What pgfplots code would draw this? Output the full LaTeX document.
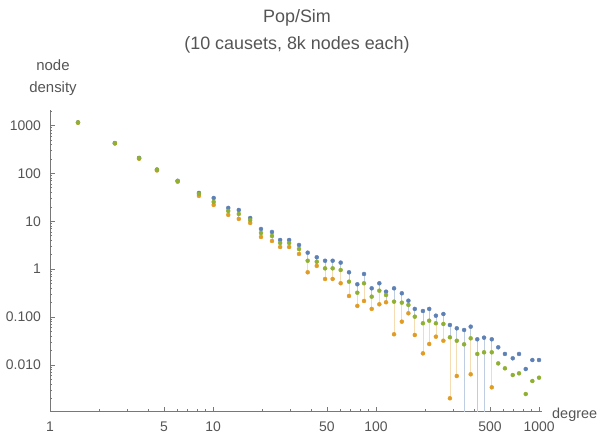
\documentclass[border=0pt]{standalone}
\usepackage{fontspec}
\setmainfont{Liberation Sans}
\usepackage{pgfplots}
\pgfplotsset{compat=1.18}
\usepackage{pgfplotstable}
\definecolor{mblue}{RGB}{94,129,181}
\definecolor{morange}{RGB}{225,156,36}
\definecolor{mgreen}{RGB}{143,176,50}
\definecolor{txt}{RGB}{85,85,85}
\definecolor{axc}{RGB}{120,120,120}

\pgfplotstableread{
x b g o
1.485 1160 1150 1140
2.5 430 425 420
3.52 210 206 202
4.53 120 118 115
6.07 70 69 67
8.2 39.0 37.2 33.8
10.1 30.6 25.3 21.9
12.4 19.0 16.4 13.6
14.4 17.2 14.2 11.2
16.9 11.7 10.6 9.2
19.7 6.9 5.7 4.7
23.0 5.98 4.93 3.88
25.8 4.07 3.52 2.90
29.3 4.07 3.52 2.90
33.7 3.20 2.64 2.08
38.1 2.21 1.50 0.861
43.3 1.77 1.43 1.17
48.7 1.50 1.04 0.624
54.2 1.50 1.04 0.624
60.7 1.37 0.96 0.508
68.3 0.861 0.548 0.276
76.8 0.484 0.323 0.171
84.4 0.794 0.508 0.217
94.1 0.399 0.267 0.148
104.8 0.508 0.356 0.185
115.2 0.339 0.289 0.204
129 0.399 0.210 0.0438
144 0.314 0.200 0.0802
158 0.220 0.179 0.120
173 0.148 0.102 0.0423
194 0.134 0.0743 0.0175
212 0.148 0.0841 0.0274
233 0.107 0.0743 0.0390
259 0.116 0.0718 0.0321
284 0.0684 0.0379 0.00202
313 0.0583 0.0321 0.00589
347 0.0538 0.0270 nan
381 0.0631 0.0361 0.00640
418 0.0344 0.0170 nan
460 0.0372 0.0184 nan
513 0.0344 0.0184 0.00342
562 0.0234 0.0108 nan
618 0.0170 0.00853 nan
690 0.0138 0.00618 nan
754 0.0170 0.00671 nan
829 0.00825 0.00248 nan
910 0.0127 0.00463 nan
1000 0.0127 0.00543 nan
}\data

\begin{document}
\begin{tikzpicture}
\useasboundingbox (-50bp,-23.5bp) rectangle (553bp,411.5bp);
\begin{axis}[
  at={(0,0)}, anchor=south west,
  scale only axis, width=492bp, height=301.5bp,
  xmode=log, ymode=log,
  xmin=1, xmax=1043, ymin=0.00107, ymax=2100,
  axis x line=bottom, axis y line=left,
  axis line style={-, draw=axc, line width=0.8pt},
  tick align=inside,
  xtick={1,5,10,50,100,500,1000},
  xticklabels={1,5,10,50,100,500,1000},
  minor xtick={2,3,4,6,7,8,9,20,30,40,60,70,80,90,200,300,400,600,700,800,900},
  ytick={0.01,0.1,1,10,100,1000},
  yticklabels={0.010,0.100,1,10,100,1000},
  minor ytick={0.002,0.003,0.004,0.005,0.006,0.007,0.008,0.009,
    0.02,0.03,0.04,0.05,0.06,0.07,0.08,0.09,
    0.2,0.3,0.4,0.5,0.6,0.7,0.8,0.9,
    2,3,4,5,6,7,8,9,20,30,40,50,60,70,80,90,
    200,300,400,500,600,700,800,900,2000},
  major tick length=5bp, minor tick length=2.5bp,
  every tick/.style={draw=axc, line width=0.6pt},
  ticklabel style={font=\fontsize{14}{16}\selectfont, text=txt, inner sep=0pt},
  xticklabel style={anchor=north, yshift=-10.5bp},
  yticklabel style={anchor=east, xshift=-9bp},
  unbounded coords=jump,
]
% filling lines blue -> orange (or to bottom)
\addplot[mblue!40, line width=0.7pt, forget plot] table {
x y
8.2 39.0
8.2 33.8
nan nan
10.1 30.6
10.1 21.9
nan nan
12.4 19.0
12.4 13.6
nan nan
14.4 17.2
14.4 11.2
nan nan
16.9 11.7
16.9 9.2
nan nan
19.7 6.9
19.7 4.7
nan nan
23.0 5.98
23.0 3.88
nan nan
25.8 4.07
25.8 2.90
nan nan
29.3 4.07
29.3 2.90
nan nan
33.7 3.20
33.7 2.08
nan nan
38.1 2.21
38.1 0.861
nan nan
43.3 1.77
43.3 1.17
nan nan
48.7 1.50
48.7 0.624
nan nan
54.2 1.50
54.2 0.624
nan nan
60.7 1.37
60.7 0.508
nan nan
68.3 0.861
68.3 0.276
nan nan
76.8 0.484
76.8 0.171
nan nan
84.4 0.794
84.4 0.217
nan nan
94.1 0.399
94.1 0.148
nan nan
104.8 0.508
104.8 0.185
nan nan
115.2 0.339
115.2 0.204
nan nan
129 0.399
129 0.0438
nan nan
144 0.314
144 0.0802
nan nan
158 0.220
158 0.120
nan nan
173 0.148
173 0.0423
nan nan
194 0.134
194 0.0175
nan nan
212 0.148
212 0.0274
nan nan
233 0.107
233 0.0390
nan nan
259 0.116
259 0.0321
nan nan
284 0.0684
284 0.00202
nan nan
313 0.0583
313 0.00589
nan nan
347 0.0538
347 0.0009
nan nan
381 0.0631
381 0.00640
nan nan
418 0.0344
418 0.0009
nan nan
460 0.0372
460 0.0009
nan nan
513 0.0344
513 0.00342
};
% green -> orange overlay
\addplot[morange!35, line width=0.7pt, forget plot] table {
x y
38.1 1.50
38.1 0.861
nan nan
48.7 1.04
48.7 0.624
nan nan
54.2 1.04
54.2 0.624
nan nan
60.7 0.96
60.7 0.508
nan nan
68.3 0.548
68.3 0.276
nan nan
76.8 0.323
76.8 0.171
nan nan
84.4 0.508
84.4 0.217
nan nan
94.1 0.267
94.1 0.148
nan nan
104.8 0.356
104.8 0.185
nan nan
129 0.210
129 0.0438
nan nan
144 0.200
144 0.0802
nan nan
173 0.102
173 0.0423
nan nan
194 0.0743
194 0.0175
nan nan
212 0.0841
212 0.0274
nan nan
233 0.0743
233 0.0390
nan nan
259 0.0718
259 0.0321
nan nan
284 0.0379
284 0.00202
nan nan
313 0.0321
313 0.00589
nan nan
381 0.0361
381 0.00640
nan nan
513 0.0184
513 0.00342
};
\addplot[only marks, mark=*, mark size=2bp, mark options={draw=mblue, fill=mblue}, unbounded coords=discard] table[x=x, y=b] {\data};
\addplot[only marks, mark=*, mark size=2bp, mark options={draw=morange, fill=morange}, unbounded coords=discard] table[x=x, y=o] {\data};
\addplot[only marks, mark=*, mark size=2bp, mark options={draw=mgreen, fill=mgreen}, unbounded coords=discard] table[x=x, y=g] {\data};
\end{axis}
\node[font=\fontsize{18}{20}\selectfont, text=txt, anchor=base] at (247bp,388.5bp) {Pop/Sim};
\node[font=\fontsize{18}{20}\selectfont, text=txt, anchor=base] at (247bp,361.5bp) {(10 causets, 8k nodes each)};
\node[font=\fontsize{15}{17}\selectfont, text=txt, anchor=base] at (3bp,340.5bp) {node};
\node[font=\fontsize{15}{17}\selectfont, text=txt, anchor=base] at (3bp,318.5bp) {density};
\node[font=\fontsize{14.5}{17}\selectfont, text=txt, anchor=base west, inner sep=0pt] at (502bp,-6.5bp) {degree};
\end{tikzpicture}
\end{document}
